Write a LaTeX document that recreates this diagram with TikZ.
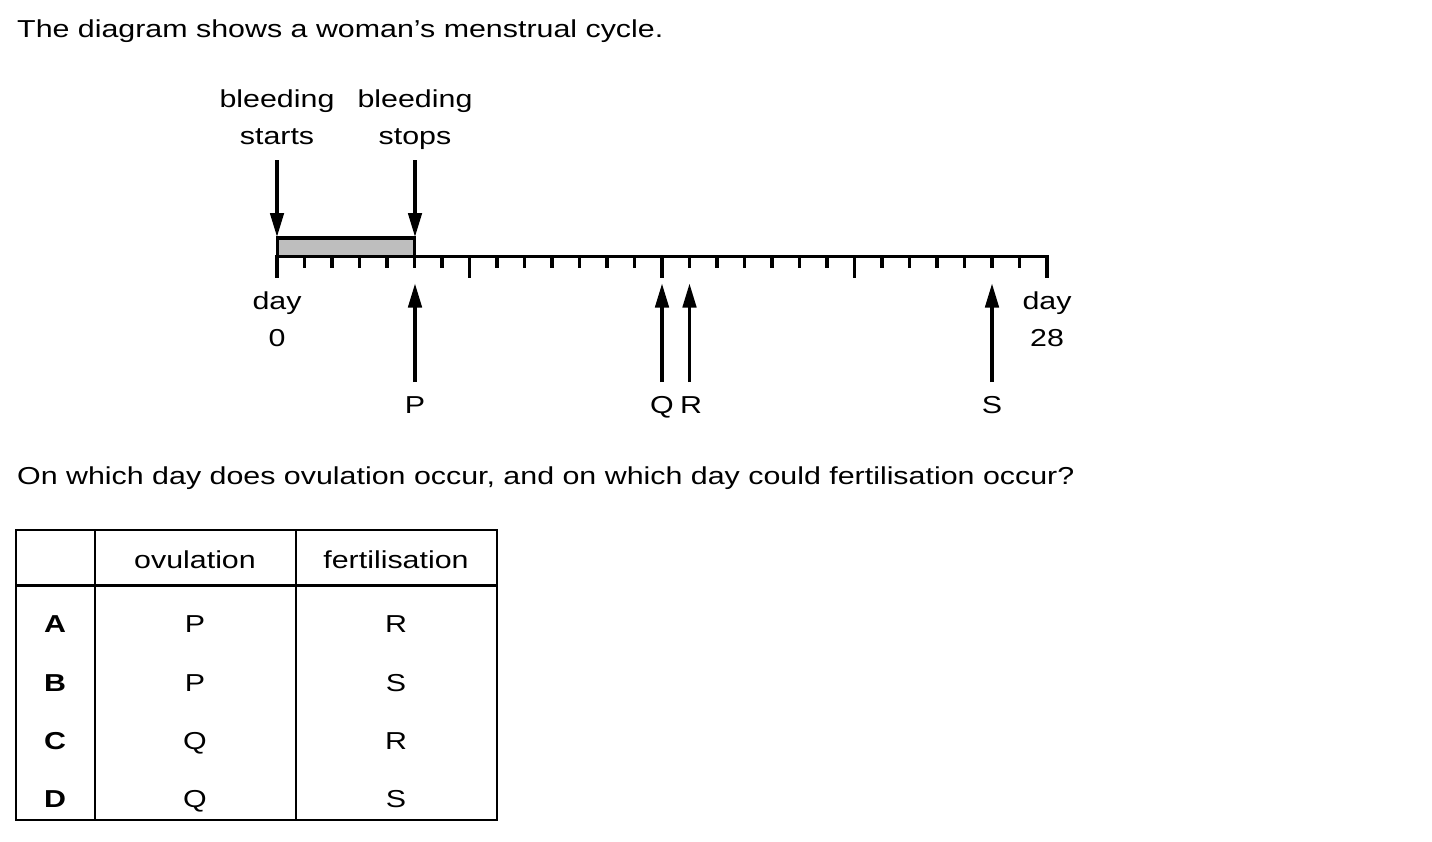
\documentclass[tikz,border=0pt]{standalone}
\usepackage{fontspec}
\setmainfont{Liberation Sans}[FakeStretch=1.24]
\usetikzlibrary{arrows.meta}
\definecolor{bleedgray}{RGB}{190,190,190}
\begin{document}
\begin{tikzpicture}[x=1bp,y=-1bp,
  txt/.style={inner sep=0pt, font=\fontsize{24.5bp}{37bp}\selectfont},
  boldtxt/.style={inner sep=0pt, font=\fontsize{24.5bp}{37bp}\selectfont\bfseries},
  axisline/.style={line width=3.5bp},
  tickline/.style={line width=3.2bp},
  arr/.style={line width=3.2bp, -{Triangle[length=24bp,width=13.5bp]}},
  gridline/.style={line width=2.2bp}]
\useasboundingbox (0,0) rectangle (1432,841);

% title
\node[txt,anchor=base west] (title) at (17,37) {The diagram shows a woman’s menstrual cycle.};

% top labels
\node[txt,anchor=base] (bs1) at (277,107) {bleeding};
\node[txt,anchor=base] (bs2) at (277,144) {starts};
\node[txt,anchor=base] (be1) at (415,107) {bleeding};
\node[txt,anchor=base] (be2) at (415,144) {stops};

% bleeding box
\node[draw, fill=bleedgray, line width=3.5bp, minimum width=137bp, minimum height=18.5bp, inner sep=0pt] (box) at (346,247.25) {};

% axis
\draw[axisline] (277,256.5) coordinate (ax0) -- (1047,256.5) coordinate (ax28);
\foreach \d in {1,...,27}
  \draw[tickline] ({277+27.5*\d},256.5) -- ({277+27.5*\d},268);
\foreach \d in {0,7,14,21,28}
  \draw[tickline] ({277+27.5*\d},255) -- ({277+27.5*\d},278);

% down arrows
\coordinate (bsTop) at (277,160);
\coordinate (bsTip) at (277,237);
\coordinate (beTop) at (415,160);
\coordinate (beTip) at (415,237);
\draw[arr] (bsTop) -- (bsTip);
\draw[arr] (beTop) -- (beTip);

% day labels
\node[txt,anchor=base] (d0a) at (277,309) {day};
\node[txt,anchor=base] (d0b) at (277,346) {0};
\node[txt,anchor=base] (d28a) at (1047,309) {day};
\node[txt,anchor=base] (d28b) at (1047,346) {28};

% up arrows
\node[txt,anchor=base] (P) at (415,413) {P};
\node[txt,anchor=base] (Q) at (662,413) {Q};
\node[txt,anchor=base] (R) at (691,413) {R};
\node[txt,anchor=base] (S) at (992,413) {S};
\foreach \n/\x in {P/415,Q/662,R/689.5,S/992}{
  \coordinate (\n b) at (\x,382);
  \coordinate (\n t) at (\x,283.5);
  \draw[arr] (\n b) -- (\n t);
}

% question
\node[txt,anchor=base west] (question) at (17,484) {On which day does ovulation occur, and on which day could fertilisation occur?};

% table
\draw[gridline] (16,530) rectangle (497,820);
\draw[gridline] (95,530) -- (95,820);
\draw[gridline] (296,530) -- (296,820);
\draw[gridline] (16,585.5) -- (497,585.5);
\node[txt,anchor=base] (hov) at (195,568) {ovulation};
\node[txt,anchor=base] (hfe) at (396,568) {fertilisation};
\foreach \L/\o/\f/\y in {A/P/R/632.5,B/P/S/691,C/Q/R/749.5,D/Q/S/807.5}{
  \node[boldtxt,anchor=base] (row\L) at (55,\y) {\L};
  \node[txt,anchor=base] (ov\L) at (195,\y) {\o};
  \node[txt,anchor=base] (fe\L) at (396,\y) {\f};
}
\end{tikzpicture}
\end{document}
